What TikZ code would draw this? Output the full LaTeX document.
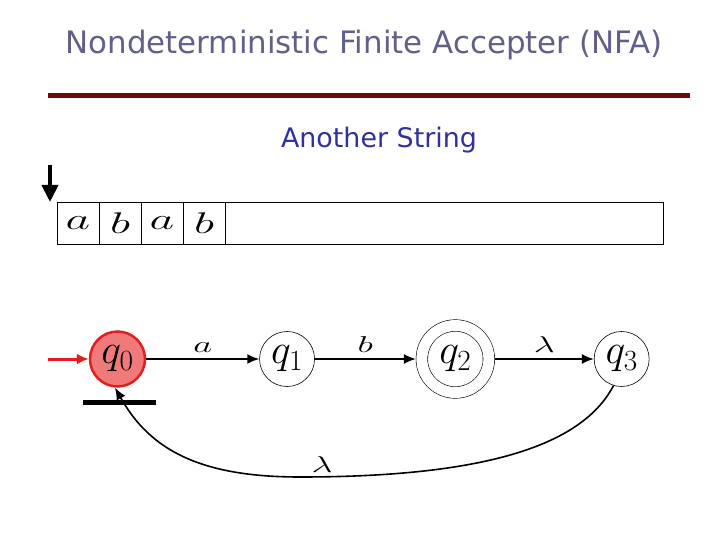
\RequirePackage{fix-cm}
\documentclass[tikz,border=0pt]{standalone}
\usepackage{fontspec}
\usepackage{graphicx}
\setmainfont{DejaVu Sans}
\usetikzlibrary{arrows.meta,positioning}
\definecolor{titlegray}{HTML}{60608A}
\definecolor{ruledark}{HTML}{700A0A}
\definecolor{subblue}{HTML}{3030A0}
\definecolor{statered}{HTML}{E41E1E}
\definecolor{statefill}{HTML}{F07A7A}
\newcommand{\widesym}[1]{\scalebox{1.6}[1]{$#1$}}

\begin{document}
\begin{tikzpicture}[x=1bp,y=-1bp,
        nstate/.style={circle,draw,line width=0.6pt,minimum size=55bp,inner sep=0pt,
          font=\fontsize{42}{42}\selectfont},
        initstate/.style={nstate,draw=statered,line width=2.5pt,fill=statefill},
        accstate/.style={nstate,double,double distance=11bp,minimum size=67bp,outer sep=6bp},
        tapecell/.style={draw,line width=1pt,minimum width=42bp,minimum height=42bp,
          inner sep=0pt,outer sep=0pt,font=\fontsize{30}{30}\selectfont},
        trans/.style={-{Latex[length=12bp,width=10bp]},line width=1.6pt},
        lbl/.style={font=\fontsize{23}{23}\selectfont}]
        \useasboundingbox (0,0) rectangle (720,540);
        \node[font=\fontsize{31}{36}\selectfont,text=titlegray](title) at (364,45){Nondeterministic Finite Accepter (NFA)};
        \draw[ruledark,line width=5bp](48,96)--(690,96);
        \node[font=\fontsize{27}{32}\selectfont,text=subblue](sub) at (379,140){Another String};
        % tape with the input
        \foreach \s [count=\i] in {a,b,a,b}
          \node[tapecell](c\i) at (36+42*\i,223){\widesym{\s}};
        \coordinate (tapeend) at (663,244);
        \draw[line width=1pt](c4.north east) rectangle (tapeend);
        \coordinate (headtop) at (50,165);
        \coordinate (headtip) at (50,202);
        \draw[-{Triangle[length=17bp,width=16bp]},line width=4bp](headtop)--(headtip);
        % automaton
        \node[initstate](q0) at (117.5,359){$q_0$};
        \node[nstate,right=113bp of q0](q1){$q_1$};
        \node[accstate,right=101bp of q1](q2){$q_2$};
        \node[nstate,right=99bp of q2](q3){$q_3$};
        \coordinate (entry) at (48,359);
        \draw[-{Latex[length=12bp,width=11bp]},statered,line width=3bp](entry)--(q0);
        \draw[line width=5bp](83,402)--(156,402);
        \draw[trans](q0)--node[lbl,above=2bp]{\widesym{a}}(q1);
        \draw[trans](q1)--node[lbl,above=2bp]{\widesym{b}}(q2);
        \draw[trans](q2)--node[lbl,above=2bp]{\widesym{\lambda}}(q3);
        \draw[trans](q3.253) .. controls (585,440) and (500,477) .. (300,477)
          node[lbl,above,xshift=22bp]{\widesym{\lambda}}
          .. controls (200,477) and (150,450) .. (q0.265);
      \end{tikzpicture}
\end{document}
